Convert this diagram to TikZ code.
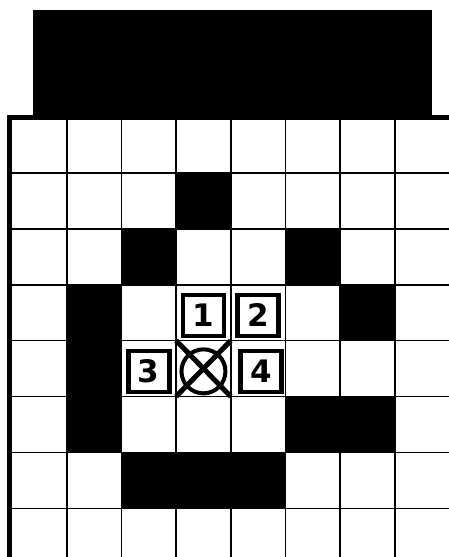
\documentclass[tikz,border=0pt]{standalone}
\usepackage{fontspec}
\newfontfamily\digitfont{DejaVu Sans}

\begin{document}
\begin{tikzpicture}[
    x=1pt, y=-1pt,
    cell/.style={fill=black},
    gridline/.style={line width=1.6pt},
    frame/.style={line width=5pt},
    numbox/.style={draw, fill=white, line width=4.5pt, minimum size=41pt, inner sep=0pt,
      font=\digitfont\bfseries\fontsize{31}{31}\selectfont},
    target/.style={circle, draw, line width=4pt, minimum size=44pt, inner sep=0pt},
    cross/.style={line width=5pt}
  ]
  \useasboundingbox (0,0) rectangle (449,557);
  \clip (0,0) rectangle (449,557);

  % --- Top block and frame ---
  \fill (33,10) rectangle (432,117);
  \draw[frame] (7,117) -- (449,117);
  \draw[frame] (9.5,114.5) -- (9.5,557);

  % --- Board ---
  \begin{scope}[shift={(12,117)}, x=54.7pt, y=-55.9pt]
    % grid lines
    \foreach \c in {1,...,7} \draw[gridline] (\c,0) -- (\c,8.2);
    \foreach \r in {1,...,7} \draw[gridline] (0,\r) -- (8.2,\r);

    % walls
    \fill[cell] (3,1) rectangle (4,2);
    \fill[cell] (2,2) rectangle (3,3);
    \fill[cell] (5,2) rectangle (6,3);
    \fill[cell] (1,3) rectangle (2,6);
    \fill[cell] (6,3) rectangle (7,4);
    \fill[cell] (5,5) rectangle (7,6);
    \fill[cell] (2,6) rectangle (5,7);

    % numbered neighbours
    \node[numbox] (n1) at (3.5,3.55) {1};
    \node[numbox] (n2) at (4.5,3.55) {2};
    \node[numbox] (n3) at (2.5,4.55) {3};
    \node[numbox] (n4) at (4.55,4.55) {4};

    % current position
    \node[target] (pos) at (3.5,4.55) {};
    \draw[cross] (3,4) -- (4,5);
    \draw[cross] (4,4) -- (3,5);
  \end{scope}
\end{tikzpicture}
\end{document}
